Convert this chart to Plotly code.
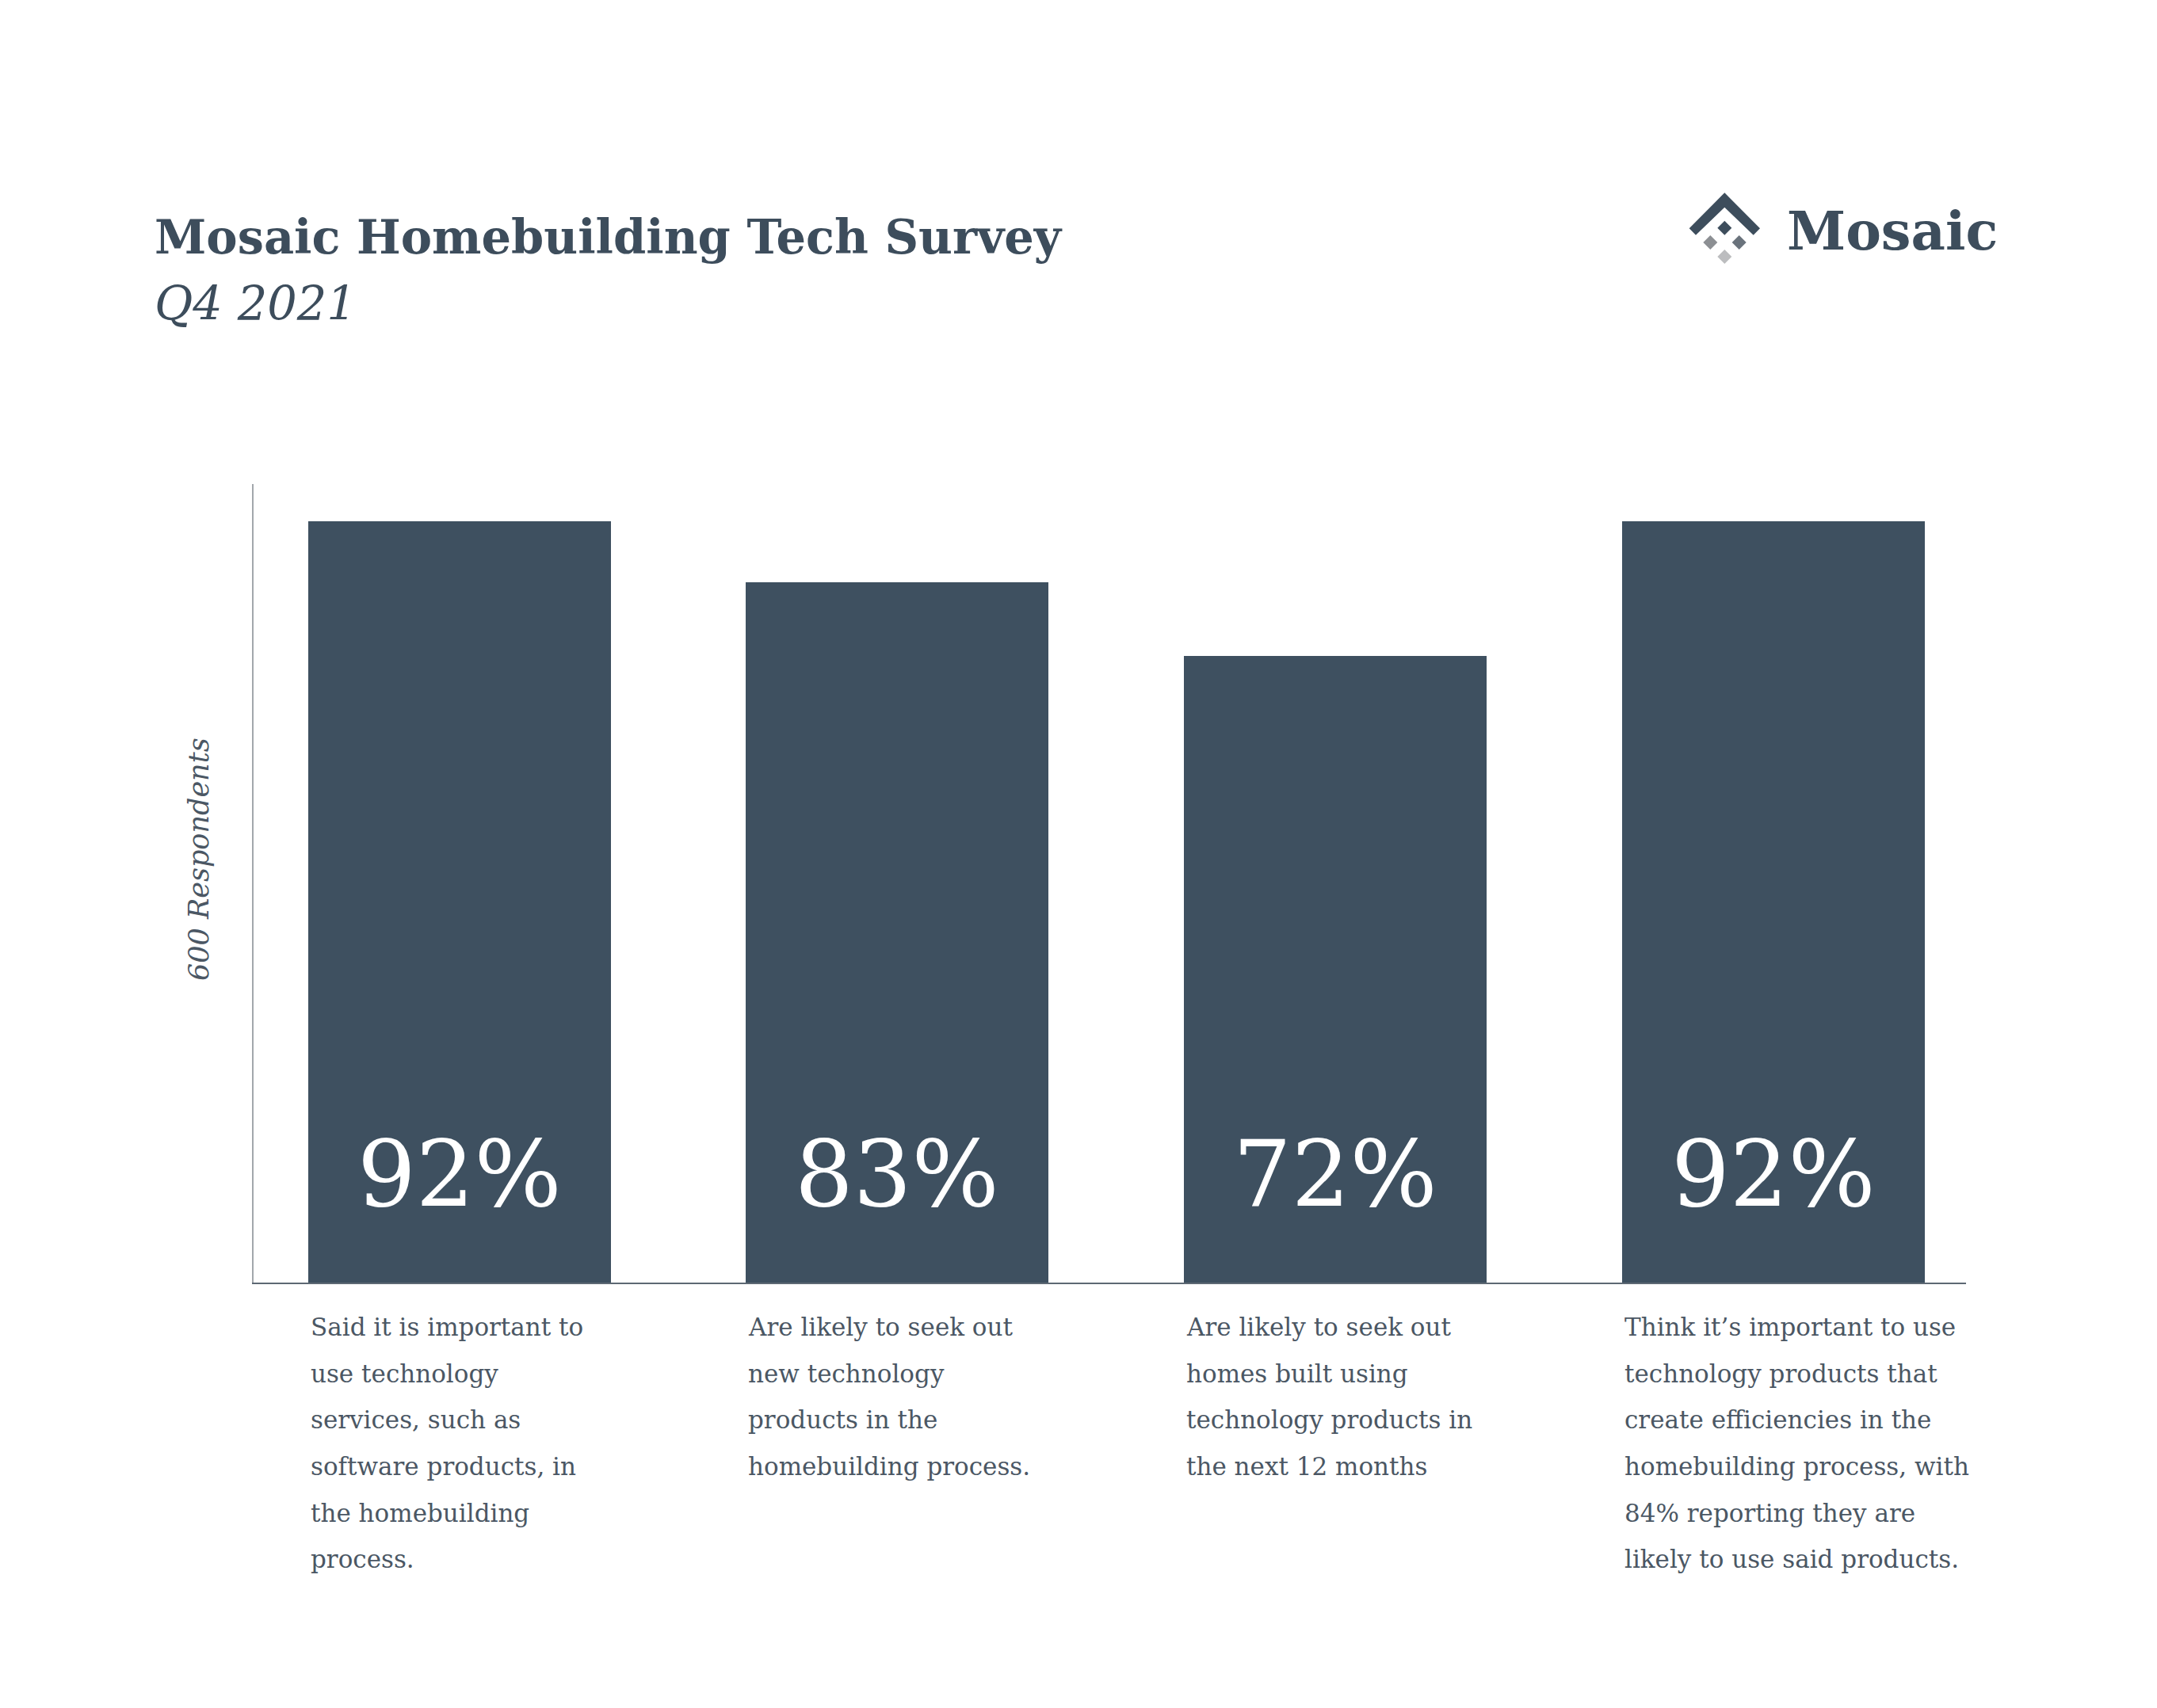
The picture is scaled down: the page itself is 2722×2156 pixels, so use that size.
import plotly.graph_objects as go

# ---------------- data ----------------
categories = ["Tech services important", "Seek out new tech", "Seek homes built with tech", "Efficiency tech important"]
percent_values = [92, 83, 72, 92]
percent_labels = ["92%", "83%", "72%", "92%"]
descriptions = [
    ["Said it is important to", "use technology", "services, such as", "software products, in", "the homebuilding", "process."],
    ["Are likely to seek out", "new technology", "products in the", "homebuilding process."],
    ["Are likely to seek out", "homes built using", "technology products in", "the next 12 months"],
    ["Think it\u2019s important to use", "technology products that", "create efficiencies in the",
     "homebuilding process, with", "84% reporting they are", "likely to use said products."],
]
title_text = "Mosaic Homebuilding Tech Survey"
subtitle_text = "Q4 2021"
y_axis_title = "600 Respondents"
logo_text = "Mosaic"

# ---------------- style ----------------
PAGE_W, PAGE_H = 2722, 2156
OFF = 8                                    # default body margin of the html page
W_FIG, H_FIG = PAGE_W - 2 * OFF, PAGE_H - 2 * OFF
L, R, T, B = 320, 2481, 611, 1619          # plot-area box in page pixels
PW, PH = R - L, B - T
Y_FLOOR, Y_TOP = -21.3, 97.6               # axis value range (unlabelled axis)
BAR_W = 0.691
X_RANGE = [-0.470, 3.440]

DARK = "#3e5060"
TEXT = "#4b5764"
HEAD = "#3d4d5c"
SERIF = "DejaVu Serif"
MID = 0.35          # text middle sits this many em above the baseline


def px(x):
    return (x - L) / PW


def py(y):
    return (B - y) / PH


def base_to_mid(baseline, size):
    return py(baseline - MID * size)


fig = go.Figure()
fig.add_trace(go.Bar(
    x=list(range(len(categories))),
    y=[v - Y_FLOOR for v in percent_values],
    base=Y_FLOOR,
    width=BAR_W,
    marker=dict(color=DARK, line=dict(width=0)),
    hoverinfo="skip",
    showlegend=False,
))

annotations = []
# big percentage labels inside bars
PCT_FS = 116
for i, lab in enumerate(percent_labels):
    annotations.append(dict(
        x=i, xref="x", y=base_to_mid(1522, PCT_FS), yref="paper", text=lab, showarrow=False,
        xanchor="center", yanchor="middle",
        font=dict(family=SERIF, size=PCT_FS, color="white"),
    ))

# description lines under each bar
BODY_FS = 31
LINE_GAP = 58.6
FIRST_BASE = 1686
for i, lines in enumerate(descriptions):
    for k, line in enumerate(lines):
        annotations.append(dict(
            x=i - BAR_W / 2, xref="x", xshift=1,
            y=base_to_mid(FIRST_BASE + k * LINE_GAP, BODY_FS), yref="paper",
            text=line, showarrow=False, xanchor="left", yanchor="middle",
            font=dict(family=SERIF, size=BODY_FS, color=TEXT),
        ))

# title / subtitle
TITLE_FS = 59
annotations.append(dict(
    x=px(193), xref="paper", y=base_to_mid(320, TITLE_FS), yref="paper",
    text="<b>" + title_text + "</b>", showarrow=False, xanchor="left", yanchor="middle",
    font=dict(family=SERIF, size=TITLE_FS, color=HEAD),
))
annotations.append(dict(
    x=px(193), xref="paper", y=base_to_mid(404, TITLE_FS), yref="paper",
    text="<i>" + subtitle_text + "</i>", showarrow=False, xanchor="left", yanchor="middle",
    font=dict(family=SERIF, size=TITLE_FS, color=HEAD),
))
# y-axis title
annotations.append(dict(
    x=px(251), xref="paper", y=py(1085), yref="paper",
    text="<i>" + y_axis_title + "</i>", showarrow=False, textangle=-90,
    xanchor="center", yanchor="middle",
    font=dict(family=SERIF, size=35, color=TEXT),
))
# logo word
LOGO_FS = 67
annotations.append(dict(
    x=px(2253), xref="paper", y=base_to_mid(315, LOGO_FS), yref="paper",
    text="<b>" + logo_text + "</b>", showarrow=False, xanchor="left", yanchor="middle",
    font=dict(family=SERIF, size=LOGO_FS, color=HEAD),
))


# logo mark shapes
def poly(points, color):
    d = "M " + " L ".join(f"{px(x):.5f},{py(y):.5f}" for x, y in points) + " Z"
    return dict(type="path", xref="paper", yref="paper", path=d,
                fillcolor=color, line=dict(width=0), layer="above")


def diamond(cx, cy, h, color):
    return poly([(cx, cy - h), (cx + h, cy), (cx, cy + h), (cx - h, cy)], color)


shapes = [
    poly([(2131.7, 288.3), (2176.3, 243.3), (2221.0, 288.3), (2212.7, 296.7),
          (2176.3, 261.7), (2140.0, 296.7)], HEAD),
    diamond(2176.3, 287.7, 9, HEAD),
    diamond(2158.3, 306.0, 9, "#8c8f93"),
    diamond(2194.7, 306.0, 9, "#6a737c"),
    diamond(2176.3, 324.0, 9, "#bcbdbf"),
]

fig.update_layout(
    width=W_FIG, height=H_FIG,
    margin=dict(l=L - OFF, r=PAGE_W - OFF - R, t=T - OFF, b=PAGE_H - OFF - B, pad=0),
    paper_bgcolor="white", plot_bgcolor="white",
    annotations=annotations, shapes=shapes,
    xaxis=dict(range=X_RANGE, showgrid=False, zeroline=False, showticklabels=False,
               ticks="", showline=True, linecolor="#5d6873", linewidth=2, fixedrange=True),
    yaxis=dict(range=[Y_FLOOR, Y_TOP], showgrid=False, zeroline=False, showticklabels=False,
               ticks="", showline=True, linecolor="#a2a7ac", linewidth=2, fixedrange=True),
    bargap=0,
)

fig.write_html("out.html")
